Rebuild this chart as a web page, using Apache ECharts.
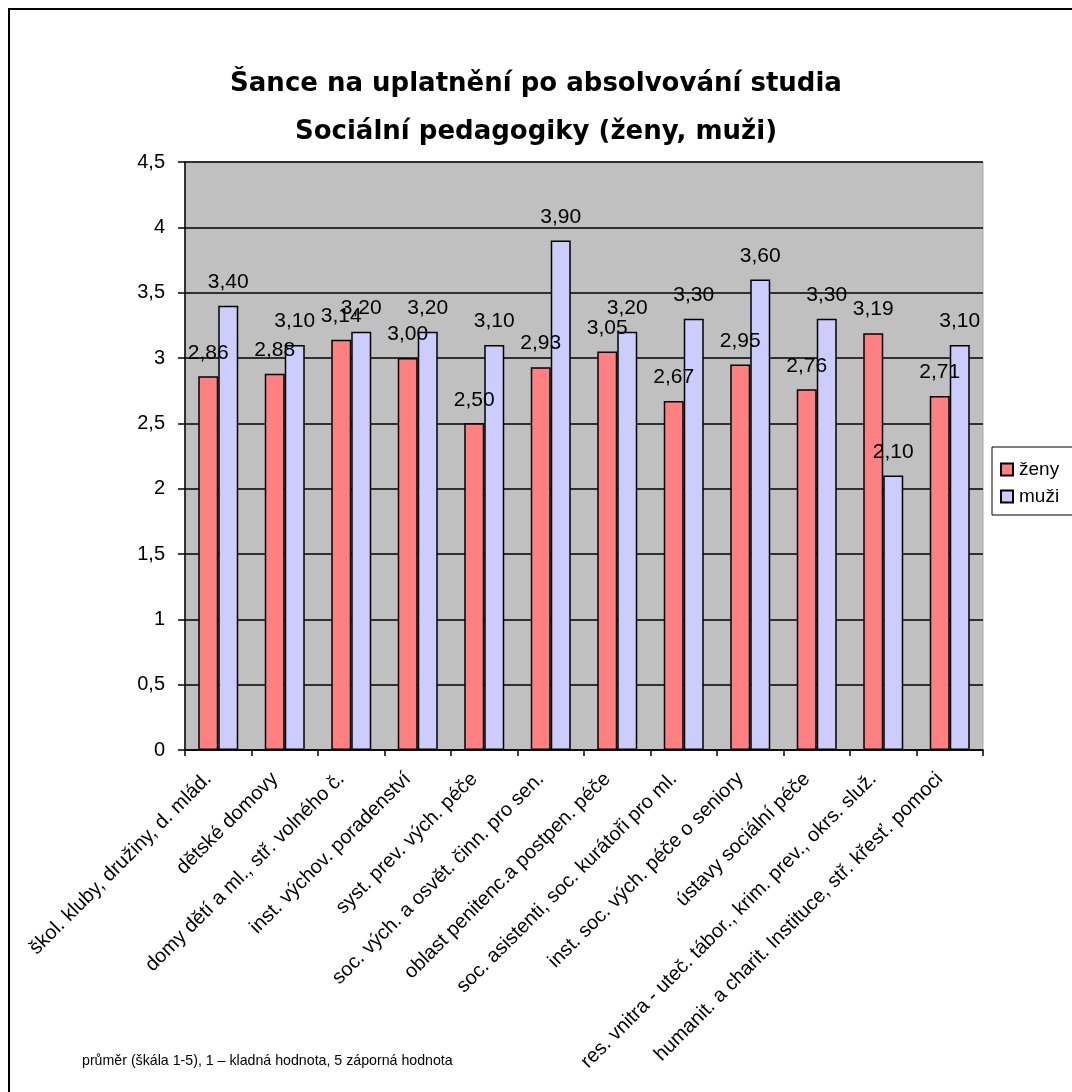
<!DOCTYPE html>
<html><head><meta charset="utf-8">
<script src="https://cdn.jsdelivr.net/npm/echarts@6/dist/echarts.min.js"></script>
<style>html,body{margin:0;padding:0;background:#fff}#c{width:1072px;height:1092px}</style>
</head><body><div id="c"></div>
<script>
const categories = ["škol. kluby, družiny, d. mlád.","dětské domovy","domy dětí a ml., stř. volného č.","inst. výchov. poradenství","syst. prev. vých. péče","soc. vých. a osvět. činn. pro sen.","oblast penitenc.a postpen. péče","soc. asistenti, soc. kurátoři pro ml.","inst. soc. vých. péče o seniory","ústavy sociální péče","res. vnitra - uteč. tábor., krim. prev., okrs. služ.","humanit. a charit. Instituce, stř. křesť. pomoci"];
const zeny = [2.86,2.88,3.14,3.00,2.50,2.93,3.05,2.67,2.95,2.76,3.19,2.71];
const muzi = [3.40,3.10,3.20,3.20,3.10,3.90,3.20,3.30,3.60,3.30,2.10,3.10];
const titleLines = ["Šance na uplatnění po absolvování studia","Sociální pedagogiky (ženy, muži)"];
const footnote = "průměr (škála 1-5), 1 – kladná hodnota, 5 záporná hodnota";

const chart = echarts.init(document.getElementById('c'), null, {renderer:'canvas'});
const font = "'Liberation Sans', Arial, sans-serif";
const titleFont = {fontFamily:"'DejaVu Sans', sans-serif", fontWeight:'bold', fontSize:26, lineHeight:32, color:'#000'};
const lbl = {show:true, position:'top', distance:13, color:'#000', fontSize:21, fontFamily:font,
  formatter: p => p.value.toFixed(2).replace('.', ',')};
chart.setOption({
  backgroundColor:'#fff',
  animation:false,
  title:[
    {text:titleLines[0], left:'center', top:68, padding:0, textStyle:titleFont},
    {text:titleLines[1], left:'center', top:116, padding:0, textStyle:titleFont}
  ],
  legend:{left:992, top:447, orient:'vertical', backgroundColor:'#fff', borderColor:'#000', borderWidth:1,
    padding:[13,30,9,8], itemGap:8, itemWidth:12, itemHeight:12, icon:'rect',
    textStyle:{fontFamily:font, fontSize:19, color:'#000', padding:[0,0,0,1]}, data:['ženy','muži']},
  grid:{left:185, right:89, top:162, bottom:342, show:true, backgroundColor:'#C0C0C0', borderColor:'#A8A8A8', borderWidth:1},
  xAxis:{type:'category', data:categories,
    axisLine:{lineStyle:{color:'#000', width:1.5}},
    axisTick:{show:true, alignWithLabel:false, length:6, lineStyle:{color:'#000', width:1.5}},
    axisLabel:{interval:0, rotate:45, fontFamily:font, fontSize:20, color:'#000', margin:16, padding:[0,14,0,0]}},
  yAxis:{type:'value', min:0, max:4.5, interval:0.5,
    axisLine:{show:true, lineStyle:{color:'#000', width:1.5}},
    axisTick:{show:true, length:7, lineStyle:{color:'#000', width:1.5}},
    splitLine:{lineStyle:{color:'#000', width:1.5}},
    axisLabel:{fontFamily:font, fontSize:20, color:'#000', margin:20,
      formatter: v => String(v).replace('.', ',')}},
  graphic:[
    {type:'rect', shape:{x:9, y:9, width:1100, height:1100}, style:{fill:'none', stroke:'#000', lineWidth:2}, z:-1},
    {type:'text', left:82, top:1054, style:{text:footnote, font:"14.2px "+font, fill:'#000'}}
  ],
  series:[
    {name:'ženy', type:'bar', data:zeny, barWidth:20, barGap:'0%', barCategoryGap:'40%',
      itemStyle:{color:'#FF8080', borderColor:'#000', borderWidth:1.5}, label:lbl},
    {name:'muži', type:'bar', data:muzi, barWidth:20,
      itemStyle:{color:'#CCCCFF', borderColor:'#000', borderWidth:1.5}, label:lbl}
  ]
});
</script></body></html>
